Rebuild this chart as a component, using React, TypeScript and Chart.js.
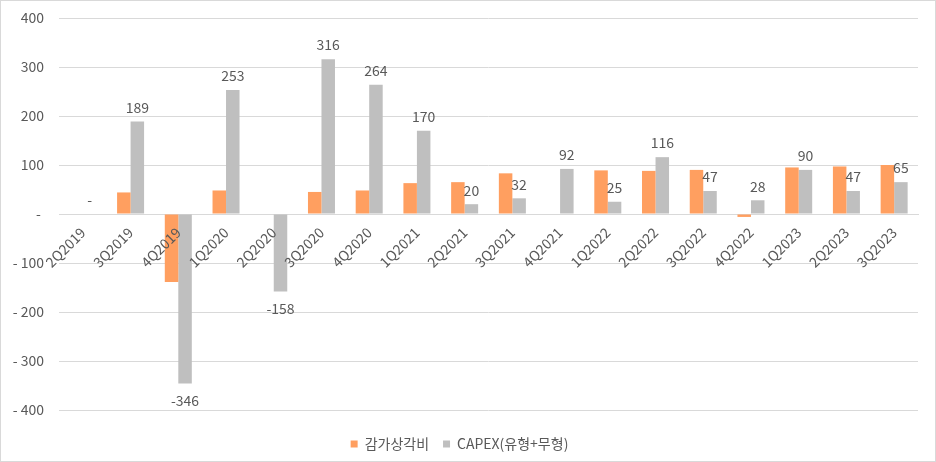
import React, { useEffect, useRef } from "react";
import { Chart, registerables } from "chart.js";

Chart.register(...registerables);

const categories = [
  "2Q2019", "3Q2019", "4Q2019", "1Q2020", "2Q2020", "3Q2020", "4Q2020",
  "1Q2021", "2Q2021", "3Q2021", "4Q2021", "1Q2022", "2Q2022", "3Q2022",
  "4Q2022", "1Q2023", "2Q2023", "3Q2023",
];
const depreciation = [0, 44, -139, 48, 0, 45, 48, 63, 65, 83, 0, 89, 88, 90, -6, 95, 97, 100];
const capex = [0, 189, -346, 253, -158, 316, 264, 170, 20, 32, 92, 25, 116, 47, 28, 90, 47, 65];
const seriesNames = ["감가상각비", "CAPEX(유형+무형)"];
const yMin = -400;
const yMax = 400;
const yStep = 100;

const FONT = '"Noto Sans CJK KR", "Noto Sans", sans-serif';
const TEXT = "#595959";
const GRID = "#d9d9d9";

const capexLabels = {
  id: "capexLabels",
  afterDatasetsDraw(chart: any) {
    const meta = chart.getDatasetMeta(1);
    const ctx = chart.ctx;
    ctx.save();
    ctx.font = `14px ${FONT}`;
    ctx.fillStyle = TEXT;
    ctx.textAlign = "center";
    ctx.textBaseline = "middle";
    meta.data.forEach((bar: any, i: number) => {
      const v = capex[i];
      if (v > 0) ctx.fillText(String(v), bar.x, bar.y - 14);
      else if (v === 0) ctx.fillText("-", bar.x, bar.y - 14);
      else ctx.fillText("-" + Math.abs(v), bar.x, bar.y + 17);
    });
    ctx.restore();
  },
};

export default function App() {
  const ref = useRef<HTMLCanvasElement | null>(null);

  useEffect(() => {
    if (!ref.current) return;
    const chart = new Chart(ref.current, {
      type: "bar",
      data: {
        labels: categories,
        datasets: [
          {
            label: seriesNames[0],
            data: depreciation,
            backgroundColor: "#FF9F60",
            categoryPercentage: 0.566,
            barPercentage: 1,
          },
          {
            label: seriesNames[1],
            data: capex,
            backgroundColor: "#BFBFBF",
            categoryPercentage: 0.566,
            barPercentage: 1,
          },
        ],
      },
      options: {
        animation: false,
        responsive: true,
        maintainAspectRatio: false,
        layout: { padding: { left: 0, right: 17, top: 17, bottom: 0 } },
        plugins: {
          tooltip: { enabled: false },
          legend: {
            position: "bottom",
            title: {
              display: true,
              text: "",
              padding: { top: 12, bottom: 0 },
              font: { size: 1, lineHeight: 1 },
            },
            labels: {
              boxWidth: 7,
              boxHeight: 7,
              padding: 14,
              color: TEXT,
              font: { family: FONT, size: 14 },
            },
          },
        },
        scales: {
          x: {
            position: { y: 0 } as any,
            grid: { display: false },
            border: { display: true, color: GRID },
            ticks: {
              z: 1,
              autoSkip: false,
              minRotation: 45,
              maxRotation: 45,
              padding: 2,
              color: TEXT,
              font: { family: FONT, size: 14 },
            },
          },
          y: {
            min: yMin,
            max: yMax,
            afterFit: (s: any) => {
              s.width = 58;
              s.paddingTop = 0;
              s.paddingBottom = 0;
            },
            grid: { color: GRID, drawTicks: false },
            border: { display: false },
            ticks: {
              stepSize: yStep,
              padding: 15,
              color: TEXT,
              font: { family: FONT, size: 14 },
              callback: (v: any) =>
                v === 0 ? "- " : v < 0 ? "- " + Math.abs(v) : String(v),
            },
          },
        },
      },
      plugins: [capexLabels],
    });
    return () => chart.destroy();
  }, []);

  return (
    <div
      style={{
        position: "fixed",
        left: 0,
        top: 0,
        width: 936,
        height: 462,
        boxSizing: "border-box",
        border: "1px solid #d9d9d9",
        background: "#fff",
      }}
    >
      <canvas ref={ref} />
    </div>
  );
}
